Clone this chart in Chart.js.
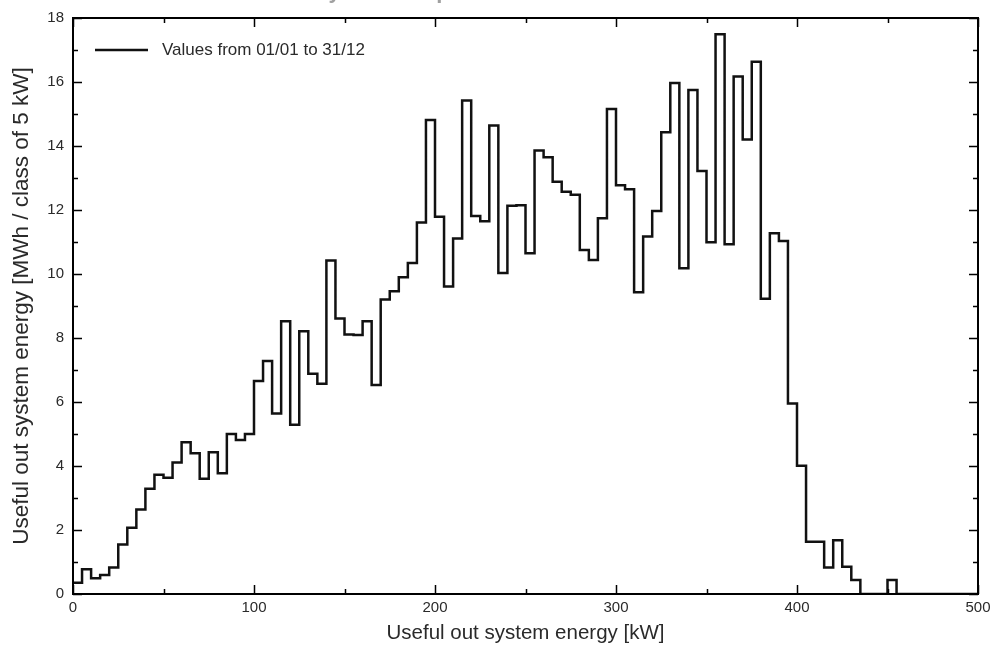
<!DOCTYPE html>
<html>
<head>
<meta charset="utf-8">
<script src="https://cdn.jsdelivr.net/npm/chart.js@4/dist/chart.umd.min.js"></script>
<style>
  html, body { margin: 0; padding: 0; background: #fff; }
  #wrap { width: 998px; height: 647px; }
</style>
</head>
<body>
<div id="wrap"><canvas id="histo" width="998" height="647"></canvas></div>
<script>
/* Verdeling van het nuttige systeemvermogen: klassen van 5 kW */

const CLASS_WIDTH = 5; // kW per klasse
const X_TICKS = [0, 100, 200, 300, 400, 500];
const Y_TICKS = [0, 2, 4, 6, 8, 10, 12, 14, 16, 18];
const SERIES_LABEL = 'Values from 01/01 to 31/12';
const TOP_TITLE = 'System Output Power Distribution';

// MWh per klasse, klasse 0 = 0-5 kW ... klasse 90 = 450-455 kW
const energie = [
  0.35, 0.77, 0.49, 0.59, 0.83, 1.55, 2.07, 2.64, 3.29, 3.73,
  3.63, 4.11, 4.74, 4.40, 3.60, 4.43, 3.77, 5.00, 4.81, 5.00,
  6.66, 7.28, 5.64, 8.52, 5.29, 8.21, 6.88, 6.57, 10.42, 8.61,
  8.11, 8.09, 8.52, 6.53, 9.20, 9.46, 9.90, 10.34, 11.61, 14.81,
  11.79, 9.61, 11.11, 15.42, 11.81, 11.65, 14.64, 10.03, 12.13, 12.15,
  10.65, 13.86, 13.65, 12.88, 12.57, 12.48, 10.75, 10.44, 11.74, 15.16,
  12.77, 12.65, 9.43, 11.17, 11.97, 14.43, 15.97, 10.18, 15.75, 13.22,
  10.99, 17.49, 10.93, 16.17, 14.20, 16.63, 9.23, 11.27, 11.03, 5.95,
  4.01, 1.63, 1.63, 0.83, 1.68, 0.85, 0.44, 0, 0, 0,
  0.44
];

const TEKST = '#2a2a2a';
const FONT = '"Liberation Sans", Arial, sans-serif';

/* ---------- helpers ---------- */

// stappen: elk punt = linkerrand van de klasse, laatste punt sluit af op 0
function stapPunten() {
  const pts = energie.map((v, i) => ({ x: i * CLASS_WIDTH, y: v }));
  pts.push({ x: energie.length * CLASS_WIDTH, y: 0 });
  pts.push({ x: X_TICKS[X_TICKS.length - 1], y: 0 });
  return pts;
}

/* ---------- kader, binnenste tickjes, legenda ---------- */

const kaderPlugin = {
  id: 'kader',
  afterDatasetsDraw(chart) {
    const { ctx, chartArea: a, scales: { x, y } } = chart;
    ctx.save();
    ctx.strokeStyle = '#000';
    ctx.lineCap = 'butt';

    ctx.lineWidth = 1.5;
    for (let v = x.min; v <= x.max; v += 50) {
      const px = Math.round(x.getPixelForValue(v)) + 0.5;
      const len = v % 100 === 0 ? 9 : 5;
      ctx.beginPath();
      ctx.moveTo(px, a.bottom); ctx.lineTo(px, a.bottom - len);
      ctx.moveTo(px, a.top); ctx.lineTo(px, a.top + len);
      ctx.stroke();
    }
    for (let v = y.min; v <= y.max; v += 1) {
      const py = Math.round(y.getPixelForValue(v)) + 0.5;
      const len = v % 2 === 0 ? 9 : 5;
      ctx.beginPath();
      ctx.moveTo(a.left, py); ctx.lineTo(a.left + len, py);
      ctx.moveTo(a.right, py); ctx.lineTo(a.right - len, py);
      ctx.stroke();
    }

    ctx.lineWidth = 2;
    ctx.strokeRect(a.left, a.top, a.right - a.left, a.bottom - a.top);

    // legenda binnen het plotvlak
    const ds = chart.data.datasets[0];
    ctx.strokeStyle = ds.borderColor;
    ctx.lineWidth = ds.borderWidth;
    ctx.beginPath();
    ctx.moveTo(a.left + 22, a.top + 32);
    ctx.lineTo(a.left + 75, a.top + 32);
    ctx.stroke();
    ctx.fillStyle = TEKST;
    ctx.font = '17px ' + FONT;
    ctx.textBaseline = 'middle';
    ctx.fillText(ds.label, a.left + 89, a.top + 32);

    // afgesneden titel bovenaan
    ctx.fillStyle = '#a0a0a0';
    ctx.font = 'bold 22px ' + FONT;
    ctx.textAlign = 'center';
    ctx.textBaseline = 'alphabetic';
    ctx.fillText(TOP_TITLE, 493, -2);
    ctx.restore();
  }
};

/* ---------- grafiek ---------- */

new Chart(document.getElementById('histo'), {
  type: 'line',
  data: {
    datasets: [{
      label: SERIES_LABEL,
      data: stapPunten(),
      stepped: 'before',
      borderColor: '#111',
      borderWidth: 2.5,
      pointRadius: 0,
      fill: false
    }]
  },
  options: {
    responsive: false,
    animation: false,
    events: [],
    layout: { padding: { top: 15, right: 20, left: 0, bottom: 0 } },
    plugins: { legend: { display: false }, tooltip: { enabled: false } },
    scales: {
      x: {
        type: 'linear',
        min: 0, max: 500,
        afterBuildTicks: s => { s.ticks = X_TICKS.map(v => ({ value: v })); },
        afterFit: s => { s.height = 53; },
        grid: { display: false, drawTicks: false },
        border: { display: false },
        ticks: { color: TEKST, padding: 5, font: { size: 15, family: FONT }, maxRotation: 0 },
        title: {
          display: true,
          text: 'Useful out system energy [kW]',
          color: TEKST,
          font: { size: 20.5, family: FONT },
          padding: { top: 0, bottom: 1 }
        }
      },
      y: {
        min: 0, max: 18,
        afterBuildTicks: s => { s.ticks = Y_TICKS.map(v => ({ value: v })); },
        afterFit: s => { s.width = 73; },
        grid: { display: false, drawTicks: false },
        border: { display: false },
        ticks: { color: TEKST, padding: 9, font: { size: 15, family: FONT } },
        title: {
          display: true,
          text: 'Useful out system energy [MWh / class of 5 kW]',
          color: TEKST,
          font: { size: 22.5, family: FONT },
          padding: { top: 8, bottom: 0 }
        }
      }
    }
  },
  plugins: [kaderPlugin]
});
</script>
</body>
</html>
